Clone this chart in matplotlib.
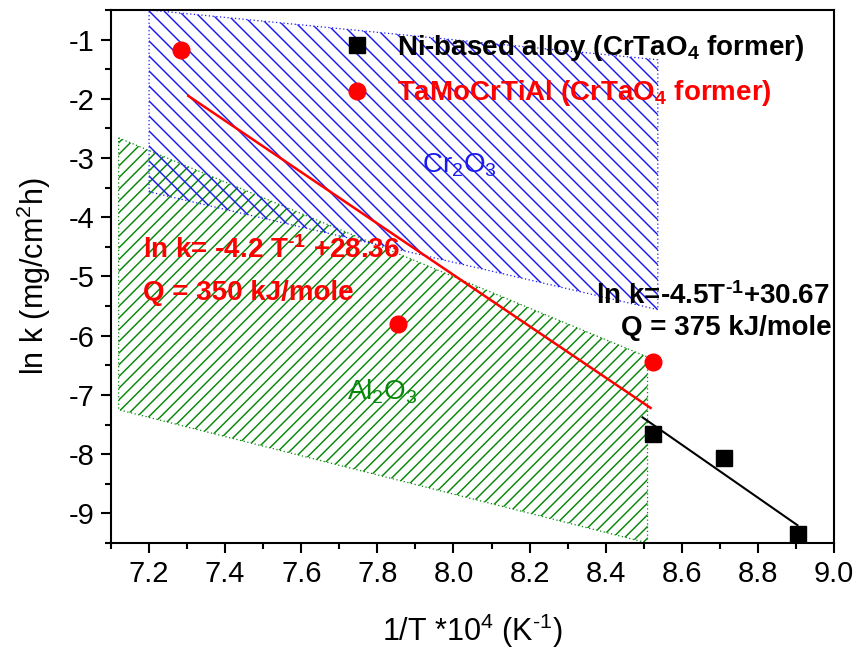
import numpy as np
import matplotlib
matplotlib.use("Agg")
import matplotlib.pyplot as plt
from matplotlib.patches import Polygon
from matplotlib.collections import LineCollection
from matplotlib.lines import Line2D
from matplotlib.transforms import Affine2D

plt.rcParams['font.family'] = ['Liberation Sans', 'DejaVu Sans']
plt.rcParams['mathtext.fontset'] = 'custom'
plt.rcParams['mathtext.rm'] = 'Liberation Sans'
plt.rcParams['mathtext.default'] = 'regular'

HY = '\u2010'  # typographic hyphen, keeps exponents as "-1" instead of a wide minus

# Measured oxidation rate constants
tamo_x = [7.284, 7.855, 8.525]
tamo_y = [-1.17, -5.80, -6.45]
ni_x = [8.525, 8.711, 8.906]
ni_y = [-7.66, -8.07, -9.35]

# Arrhenius fit lines (end points)
tamo_fit_x = [7.303, 8.518]
tamo_fit_y = [-1.95, -7.22]
ni_fit_x = [8.497, 8.904]
ni_fit_y = [-7.38, -9.20]

# Oxide-former regions
cr2o3_x = [7.20, 8.537, 8.537, 7.20]
cr2o3_y = [-0.50, -1.34, -5.56, -3.57]
al2o3_x = [7.12, 8.51, 8.51, 7.12]
al2o3_y = [-2.66, -6.36, -9.50, -7.25]

xticks = [7.2, 7.4, 7.6, 7.8, 8.0, 8.2, 8.4, 8.6, 8.8, 9.0]
yticks = [-1, -2, -3, -4, -5, -6, -7, -8, -9]

BLUE = '#1a1af0'
GREEN = '#08880a'
RED = '#ff0000'

fig = plt.figure(figsize=(8.56, 6.53), dpi=100)
ax = fig.add_axes([0.1297, 0.1685, 0.8446, 0.8162])
ax.set_xlim(7.1, 9.0)
ax.set_ylim(-9.5, -0.5)

W_px = 0.8446 * 856
H_px = 0.8162 * 653


def hatched_region(xs, ys, color, spacing, rising):
    poly = Polygon(np.column_stack([xs, ys]), closed=True, facecolor='none',
                   edgecolor=color, linestyle=(0, (1, 2)), linewidth=0.9, zorder=1)
    ax.add_patch(poly)
    segs = []
    c = -H_px
    while c < W_px + H_px:
        if rising:
            segs.append([(c, 0), (c + H_px, H_px)])
        else:
            segs.append([(c, H_px), (c + H_px, 0)])
        c += spacing
    tr = Affine2D().scale(1.0 / W_px, 1.0 / H_px) + ax.transAxes
    lc = LineCollection(segs, colors=color, linewidths=1.05, transform=tr, zorder=1)
    ax.add_collection(lc)
    lc.set_clip_path(poly)


hatched_region(al2o3_x, al2o3_y, GREEN, 11.7, True)
hatched_region(cr2o3_x, cr2o3_y, BLUE, 15.0, False)

ax.plot(tamo_fit_x, tamo_fit_y, color=RED, lw=1.8, zorder=3)
ax.plot(ni_fit_x, ni_fit_y, color='black', lw=1.5, zorder=3)
ax.plot(tamo_x, tamo_y, 'o', color=RED, ms=12, mec=RED, zorder=4)
ax.plot(ni_x, ni_y, 's', color='black', ms=11, zorder=4)

# Legend
handles = [Line2D([], [], marker='s', ls='none', color='black', ms=11),
           Line2D([], [], marker='o', ls='none', color=RED, ms=12)]
labels = ['Ni-based alloy (CrTaO$_4$ former)', 'TaMoCrTiAl (CrTaO$_4$ former)']
leg = ax.legend(handles, labels, loc='upper left', bbox_to_anchor=(0.311, 0.957),
                frameon=False, borderpad=0, borderaxespad=0, handlelength=1.5,
                handletextpad=0.7, labelspacing=0.56,
                prop={'size': 20, 'weight': 'bold'})
for t, c in zip(leg.get_texts(), ['black', RED]):
    t.set_color(c)

# Region labels
ax.text(7.916, -3.24, 'Cr$_2$O$_3$', color=BLUE, fontsize=20, zorder=5)
ax.text(7.72, -7.08, 'Al$_2$O$_3$', color=GREEN, fontsize=20, zorder=5)

# Fit equations
ax.text(7.184, -4.69, 'ln k= -4.2 T$^{' + HY + '1}$ +28.36', color=RED,
        fontsize=20, fontweight='bold', zorder=5)
ax.text(7.184, -5.40, 'Q = 350 kJ/mole', color=RED, fontsize=20,
        fontweight='bold', zorder=5)
ax.text(8.374, -5.46, 'ln k=-4.5T$^{' + HY + '1}$+30.67', color='black',
        fontsize=20, fontweight='bold', zorder=5)
ax.text(8.44, -5.99, 'Q = 375 kJ/mole', color='black', fontsize=20,
        fontweight='bold', zorder=5)

ax.set_xticks(xticks)
ax.set_xticklabels([f'{v:.1f}' for v in xticks])
ax.set_yticks(yticks)
ax.set_yticklabels([f'{v:d}' for v in yticks])
ax.set_xticks(np.arange(7.1, 9.01, 0.1), minor=True)
ax.set_yticks(np.arange(-9.5, -0.49, 0.5), minor=True)
ax.tick_params(which='both', direction='out', top=False, right=False,
               labelsize=21, width=1.5)
ax.tick_params(which='major', length=7, pad=5)
ax.tick_params(which='minor', length=4)
for s in ax.spines.values():
    s.set_linewidth(1.5)

ax.set_xlabel('1/T *10$^4$ (K$^{' + HY + '1}$)', fontsize=22, labelpad=17)
ax.set_ylabel('ln k (mg/cm$^2$h)', fontsize=22, labelpad=11)

fig.savefig('out.png', dpi=100)
